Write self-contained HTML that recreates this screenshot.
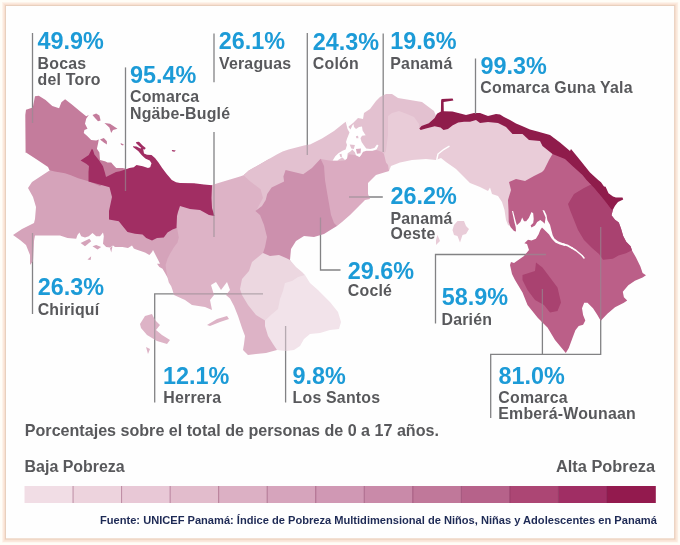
<!DOCTYPE html><html><head><meta charset="utf-8"><title>Mapa</title><style>
html,body{margin:0;padding:0;background:#fffdf7;}body{width:680px;height:545px;overflow:hidden;position:relative;font-family:"Liberation Sans",sans-serif;}
svg{position:absolute;left:0;top:0;}text{font-family:"Liberation Sans",sans-serif;font-weight:bold;}text.lab{letter-spacing:0.2px;}
</style></head><body>
<svg width="680" height="545" viewBox="0 0 680 545">
<defs><linearGradient id="fr" x1="0" y1="0" x2="1" y2="0"><stop offset="0" stop-color="#fdeadf"/><stop offset="1" stop-color="#ecd3c2"/></linearGradient><filter id="sb" x="-2%" y="-2%" width="104%" height="104%"><feGaussianBlur stdDeviation="0.38"/></filter></defs>
<rect x="0" y="0" width="680" height="545" fill="#fffdf7"/>
<rect x="3" y="3" width="674.2" height="538.5" fill="none" stroke="#fdf3ea" stroke-width="2"/>
<rect x="4.5" y="4.5" width="671.2" height="535.5" fill="#fefefe" stroke="#f8e0d1" stroke-width="3"/>
<rect x="3.5" y="3.5" width="673.2" height="537.5" fill="none" stroke="#fbe9dd" stroke-width="1"/>
<rect x="5.5" y="5.5" width="669.2" height="533.5" fill="none" stroke="#e8d0be" stroke-width="1"/>
<clipPath id="mc"><path d="M49.5,170.4 L32.0,182.0 L28.0,188.0 L33.0,197.0 L36.0,207.0 L35.0,219.0 L34.0,223.0 L22.0,229.0 L13.0,235.0 L20.0,240.0 L26.0,245.0 L30.0,255.0 L30.0,265.0 L33.0,261.0 L34.0,241.0 L35.0,235.5 L50.0,235.5 L60.0,235.6 L67.5,238.0 L76.2,238.8 L77.5,235.0 L79.4,232.5 L81.2,236.2 L85.0,237.5 L88.8,236.2 L92.5,233.0 L96.2,236.2 L100.0,236.2 L103.0,232.5 L103.8,236.2 L103.0,243.8 L106.2,247.0 L110.0,247.5 L113.0,245.6 L115.0,247.0 L122.5,247.0 L128.0,248.0 L132.0,245.6 L133.8,248.5 L136.2,249.4 L145.0,252.5 L149.4,255.0 L152.0,252.0 L153.0,250.0 L156.2,256.2 L158.8,261.2 L160.0,263.8 L157.0,263.8 L159.4,267.0 L162.5,268.8 L165.0,273.0 L167.5,277.5 L171.0,277.0 L174.0,262.0 L184.0,242.0 L182.0,226.0 L177.0,215.0 L150.0,200.0 L112.0,180.0 L88.0,175.0 L68.0,167.0 L54.0,168.0 Z"/><path d="M177.0,227.5 L178.8,237.5 L177.5,242.5 L173.8,247.5 L170.0,253.8 L167.5,258.8 L165.6,265.0 L166.2,270.0 L167.5,277.5 L168.8,282.5 L171.2,286.2 L172.5,290.0 L174.0,295.0 L185.0,300.0 L192.0,305.0 L205.0,307.0 L212.0,310.0 L210.0,300.0 L214.0,295.0 L211.0,285.0 L216.0,282.0 L221.0,290.0 L227.0,282.0 L230.0,290.0 L226.0,295.0 L230.0,298.5 L234.0,306.0 L238.0,316.0 L242.0,328.0 L245.0,336.0 L244.0,344.0 L243.0,350.0 L248.0,355.0 L256.0,354.0 L266.0,353.0 L277.0,350.0 L290.0,340.0 L300.0,280.0 L285.0,250.0 L290.0,200.0 L275.0,175.0 L269.4,158.8 L259.1,164.7 L248.8,170.6 L243.5,175.2 L240.0,176.5 L225.0,181.0 L212.0,185.0 L205.0,190.0 L175.0,198.0 L168.0,225.0 Z"/><path d="M243.5,175.2 L248.8,170.6 L259.1,164.7 L269.4,158.8 L276.8,154.4 L282.6,151.5 L288.5,149.6 L305.0,145.3 L310.0,144.5 L322.0,138.5 L334.0,131.0 L344.0,123.0 L347.0,121.0 L348.0,127.0 L353.0,123.0 L358.0,118.0 L363.0,119.0 L364.0,113.0 L370.0,109.0 L376.0,101.0 L380.0,97.0 L382.0,96.0 L386.0,94.0 L392.0,94.0 L398.0,98.0 L410.0,100.0 L422.0,102.0 L426.0,105.0 L434.0,111.0 L436.0,116.0 L440.0,120.0 L430.0,130.0 L419.0,130.0 L395.0,140.0 L395.0,160.0 L370.0,175.0 L330.0,180.0 L300.0,190.0 L265.0,215.0 L256.0,211.0 L263.0,198.0 L260.6,189.2 L250.3,181.4 Z"/><path d="M384.0,154.0 L386.0,151.0 L388.0,135.0 L388.0,116.0 L392.0,113.0 L399.0,111.0 L407.0,114.0 L414.0,117.0 L419.0,124.0 L419.0,128.0 L430.0,122.0 L450.0,118.0 L500.0,120.0 L540.0,138.0 L556.0,150.0 L556.0,158.0 L548.0,174.0 L528.0,184.0 L514.0,186.0 L511.0,190.0 L510.0,200.0 L511.0,210.0 L511.0,222.0 L510.0,226.0 L508.0,225.0 L506.0,220.0 L504.5,210.0 L502.0,202.0 L498.0,196.0 L492.0,194.0 L490.0,187.5 L488.0,191.0 L480.0,187.0 L470.0,183.0 L464.0,177.0 L456.0,169.0 L446.0,162.0 L441.0,158.0 L436.0,160.0 L426.0,159.0 L412.0,160.0 L400.0,162.5 L391.0,166.0 L389.0,171.0 L380.0,172.0 L380.0,155.0 Z"/><path d="M321.0,159.0 L326.0,160.0 L332.7,161.0 L337.4,161.0 L345.0,160.5 L347.0,158.4 L348.7,154.3 L355.0,155.0 L359.5,157.0 L361.0,155.3 L363.0,152.0 L366.2,151.0 L372.4,151.0 L376.5,150.0 L382.0,152.0 L384.0,154.0 L386.0,162.5 L388.0,165.0 L389.0,171.0 L376.0,175.0 L368.0,183.0 L368.0,194.0 L370.0,199.0 L365.0,200.0 L360.0,205.0 L350.0,215.0 L342.0,222.0 L337.0,226.0 L330.0,226.0 L322.0,200.0 L318.0,165.0 Z"/><path d="M255.4,211.0 L262.0,205.9 L265.7,200.0 L267.2,194.1 L271.6,187.5 L284.1,181.6 L283.4,176.5 L285.6,169.9 L303.2,174.3 L312.0,168.0 L320.6,158.8 L324.0,166.0 L325.0,180.0 L327.5,195.0 L331.0,215.0 L334.0,223.0 L337.0,226.0 L332.0,229.0 L324.0,234.0 L314.0,237.0 L304.0,236.0 L296.0,241.0 L291.0,249.0 L290.0,260.0 L290.0,263.0 L280.0,262.0 L266.0,259.0 L263.0,253.0 L265.0,247.0 L267.0,237.0 L264.0,225.0 L260.0,215.0 Z"/><path d="M263.0,253.0 L270.0,256.0 L279.0,255.0 L286.0,258.0 L290.0,260.0 L296.0,267.0 L302.0,272.0 L305.0,275.0 L301.0,281.0 L292.0,287.0 L288.0,296.0 L284.0,306.0 L278.0,315.0 L266.0,322.0 L265.0,320.5 L256.0,315.0 L248.0,305.0 L242.0,295.0 L240.0,289.0 L242.0,279.0 L249.0,271.0 L252.0,262.0 Z"/><path d="M305.0,275.0 L298.0,277.0 L292.0,281.0 L285.0,283.0 L283.0,291.0 L280.0,299.0 L278.0,309.0 L272.0,314.0 L265.0,320.5 L265.0,326.0 L268.0,336.0 L273.0,344.0 L277.0,350.0 L286.0,351.0 L294.0,350.0 L300.0,346.0 L304.0,339.0 L310.0,334.0 L320.0,333.0 L330.0,330.0 L339.0,329.0 L341.0,322.0 L338.0,312.0 L330.0,302.0 L318.0,290.0 L310.0,283.0 Z"/><path d="M25.3,115.0 L26.0,109.8 L32.8,107.6 L35.0,96.3 L38.8,95.8 L45.6,100.0 L52.3,106.0 L59.1,108.3 L61.4,102.3 L65.1,99.3 L71.9,104.6 L80.0,111.2 L86.2,116.2 L88.8,115.0 L86.2,118.8 L85.0,123.8 L87.5,128.8 L84.4,130.0 L83.8,133.0 L87.5,136.2 L91.2,140.0 L96.2,140.6 L98.8,139.4 L98.0,143.8 L96.9,148.8 L99.4,152.5 L100.0,160.0 L105.0,161.2 L107.5,162.5 L111.2,162.5 L113.8,165.6 L116.2,168.0 L122.5,168.0 L126.0,168.8 L126.0,172.0 L110.0,180.0 L100.0,186.0 L88.5,181.3 L78.2,178.2 L70.9,175.3 L65.0,173.2 L54.7,171.6 L49.5,170.2 L48.0,167.0 L36.0,159.0 L26.0,152.5 L25.6,153.0 Z"/><path d="M91.9,148.8 L93.0,150.0 L94.4,154.4 L98.8,160.0 L103.0,166.2 L105.0,173.0 L106.0,177.0 L110.0,175.0 L116.0,172.0 L120.0,171.2 L126.0,169.2 L129.4,168.0 L133.8,167.2 L136.5,165.0 L142.7,166.3 L148.0,168.0 L150.2,167.2 L151.5,163.2 L149.7,160.6 L145.3,158.4 L141.8,155.3 L138.2,150.9 L133.0,147.0 L133.0,146.2 L136.5,146.4 L140.4,148.5 L141.3,148.1 L138.0,145.0 L136.0,142.9 L136.4,142.0 L139.0,141.8 L142.6,145.4 L145.7,148.0 L144.9,149.6 L143.2,149.2 L144.0,153.6 L147.0,154.7 L151.5,154.9 L155.0,158.0 L158.5,162.4 L162.0,167.7 L166.5,173.8 L171.8,180.0 L176.0,182.3 L180.0,183.0 L194.0,183.3 L204.0,184.5 L212.0,185.2 L211.5,198.0 L212.0,208.0 L214.5,216.0 L209.0,215.0 L200.0,210.0 L190.0,209.0 L180.0,206.0 L178.0,212.0 L177.0,216.0 L176.5,228.0 L172.5,229.4 L167.5,232.5 L163.8,237.5 L157.0,238.0 L152.0,240.6 L146.2,238.0 L142.5,234.4 L135.0,233.8 L127.5,232.0 L123.8,227.5 L118.8,221.2 L109.0,219.5 L109.0,211.0 L112.0,197.0 L109.5,187.2 L98.8,184.3 L88.5,181.5 L88.5,172.0 L89.0,166.0 L86.2,163.8 L80.6,160.6 L88.8,155.0 Z"/><path d="M509.0,182.0 L516.0,179.0 L525.0,181.0 L534.0,176.0 L542.0,172.0 L544.0,170.0 L549.0,160.0 L552.5,154.0 L565.0,150.0 L600.0,186.0 L613.0,209.4 L611.5,215.3 L615.0,219.7 L618.8,222.6 L621.0,228.5 L623.2,235.9 L626.2,241.8 L630.6,246.2 L632.0,250.4 L636.0,257.6 L640.4,266.4 L642.6,273.0 L646.0,275.2 L642.6,277.4 L634.9,280.7 L628.3,285.2 L622.8,291.8 L623.9,297.3 L627.2,300.6 L623.9,302.8 L615.0,307.2 L607.4,313.8 L600.7,320.8 L597.4,314.9 L593.0,308.3 L587.5,302.8 L584.2,302.8 L582.0,308.3 L583.1,314.9 L585.3,320.4 L583.1,324.8 L578.7,325.9 L575.4,330.3 L572.1,339.1 L568.8,347.9 L565.8,353.0 L555.0,340.0 L547.5,327.5 L537.5,317.5 L527.5,305.0 L522.5,292.5 L515.0,280.0 L512.0,274.0 L510.0,265.0 L511.0,262.0 L514.0,263.0 L524.0,256.0 L529.0,250.0 L527.0,244.0 L524.4,243.2 L528.0,239.7 L531.5,240.6 L535.9,238.8 L538.5,234.4 L540.3,230.0 L542.0,227.4 L545.6,230.9 L549.1,234.4 L551.8,238.8 L555.3,242.4 L559.7,244.4 L565.0,246.0 L565.0,244.0 L562.4,243.0 L558.0,241.3 L554.4,238.6 L552.7,235.3 L551.3,230.0 L550.0,224.7 L547.4,220.3 L546.5,215.0 L544.3,210.6 L542.5,210.1 L543.8,213.2 L545.6,217.6 L544.7,223.8 L543.0,222.0 L540.3,219.9 L537.2,222.0 L535.0,225.6 L531.5,227.4 L530.6,225.6 L533.2,223.0 L533.7,219.0 L533.2,213.2 L531.5,212.0 L528.8,218.0 L526.2,221.2 L524.0,221.2 L522.2,217.6 L520.4,222.0 L517.4,224.7 L516.9,225.3 L515.9,222.0 L513.1,211.0 L512.0,211.0 L514.5,222.5 L515.7,227.0 L516.0,231.5 L514.0,231.0 L510.5,227.0 L508.7,222.0 L508.5,210.0 L508.0,200.0 L511.0,190.0 Z"/><path d="M568.0,204.0 L574.0,194.0 L584.0,188.0 L590.0,185.0 L600.0,185.0 L610.0,200.0 L613.0,209.4 L611.5,215.3 L615.0,219.7 L618.8,222.6 L621.0,228.5 L623.2,235.9 L626.2,241.8 L630.6,246.2 L632.0,250.2 L626.0,253.2 L618.4,255.4 L612.9,258.7 L603.0,259.8 L599.0,254.0 L592.0,248.0 L584.0,240.0 L578.0,230.0 L574.0,220.0 L570.0,210.0 Z"/><path d="M522.5,275.0 L535.0,271.0 L536.0,262.5 L542.5,267.5 L550.0,277.5 L557.5,287.5 L561.0,302.5 L557.5,311.0 L550.0,312.5 L544.0,305.0 L535.0,300.0 L527.5,290.0 L522.5,280.0 Z"/><path d="M419.3,128.4 L421.5,126.0 L428.8,123.2 L434.7,118.0 L437.0,113.7 L440.9,111.5 L441.1,100.6 L441.6,98.9 L452.6,98.4 L453.4,100.6 L443.6,101.9 L443.8,111.2 L452.4,111.5 L461.2,113.7 L466.0,115.0 L474.0,113.0 L480.0,113.0 L488.0,116.0 L496.0,114.0 L500.0,114.5 L504.0,117.0 L510.0,120.0 L516.0,123.5 L522.0,126.0 L530.0,129.5 L537.5,131.5 L550.0,135.0 L560.0,142.5 L570.0,151.0 L571.0,149.0 L580.0,160.0 L590.0,172.5 L598.2,180.0 L601.0,182.2 L604.0,186.6 L605.6,186.8 L608.5,193.2 L613.0,196.6 L615.9,197.6 L622.5,197.4 L623.2,199.4 L618.0,202.0 L615.0,205.7 L613.0,209.6 L611.5,209.4 L607.0,203.5 L601.2,196.2 L593.8,187.4 L586.5,180.0 L582.5,175.0 L572.5,166.0 L565.0,159.0 L552.5,154.0 L542.5,146.0 L540.0,141.0 L529.0,140.0 L522.5,134.0 L512.5,134.0 L506.0,127.0 L498.0,123.0 L488.0,122.0 L480.0,123.0 L476.0,120.0 L470.0,121.8 L464.0,121.8 L458.2,122.5 L452.4,125.4 L448.0,129.0 L443.5,129.9 L440.6,127.6 L434.7,126.2 L425.9,128.4 L420.7,129.9 Z"/><path d="M355.9,136.3 L358.0,135.7 L358.5,138.3 L356.4,138.3 Z"/><path d="M349.7,144.5 L354.9,145.0 L353.8,149.1 L351.3,148.6 Z"/><path d="M355.9,149.1 L361.0,148.6 L360.5,153.3 L357.0,153.8 Z"/><path d="M339.4,154.3 L341.5,153.8 L342.0,157.4 L340.4,156.9 Z"/><path d="M92.5,115.0 L96.2,113.5 L99.4,115.6 L100.6,120.6 L98.0,121.2 L95.0,118.0 Z"/><path d="M104.4,123.0 L110.0,123.8 L117.5,128.8 L113.0,130.0 L111.2,133.0 L109.4,127.5 Z"/><path d="M100.0,139.4 L103.8,138.0 L106.9,141.2 L106.9,144.4 L103.8,142.5 Z"/><path d="M120.6,143.0 L123.8,144.4 L123.0,145.6 L121.0,144.8 Z"/><path d="M171.8,150.0 L175.8,150.4 L174.4,151.8 L172.2,151.3 Z"/><path d="M80.6,243.0 L89.4,238.8 L91.2,241.2 L85.0,246.2 Z"/><path d="M92.5,246.2 L96.2,245.0 L101.2,247.0 L97.5,249.4 Z"/><path d="M110.0,248.0 L112.5,246.0 L111.2,252.5 Z"/><path d="M87.5,259.4 L91.2,256.2 L90.6,260.0 Z"/><path d="M140.0,324.0 L145.0,316.0 L152.0,314.0 L155.0,320.0 L160.0,325.0 L156.0,330.0 L162.0,335.0 L170.0,340.0 L167.0,344.0 L157.0,341.0 L147.0,335.0 L141.0,328.0 Z"/><path d="M146.0,347.0 L150.0,349.0 L148.0,354.0 Z"/><path d="M207.0,325.0 L217.0,319.0 L227.0,316.0 L229.0,319.0 L220.0,322.0 L210.0,326.0 Z"/><path d="M454.0,225.0 L457.5,221.0 L464.0,221.0 L466.0,226.0 L469.0,229.0 L466.0,234.0 L462.5,235.0 L460.0,242.5 L457.5,236.0 L454.0,235.0 L452.5,230.0 Z"/><path d="M437.5,235.0 L440.0,241.0 L436.0,245.0 L436.0,240.0 Z"/></clipPath>
<path d="M32.5,33.0 L32.5,123.0" fill="none" stroke="#828284" stroke-width="1.3"/>
<path d="M125.5,67.4 L125.5,191.0" fill="none" stroke="#828284" stroke-width="1.3"/>
<path d="M214.0,33.5 L214.0,82.3" fill="none" stroke="#828284" stroke-width="1.3"/>
<path d="M214.0,132.0 L214.0,237.0" fill="none" stroke="#828284" stroke-width="1.3"/>
<path d="M307.3,33.0 L307.3,155.0" fill="none" stroke="#828284" stroke-width="1.3"/>
<path d="M383.2,33.5 L383.2,152.0" fill="none" stroke="#828284" stroke-width="1.3"/>
<path d="M475.5,58.5 L475.5,114.0" fill="none" stroke="#828284" stroke-width="1.3"/>
<path d="M349.0,197.0 L382.8,197.0" fill="none" stroke="#828284" stroke-width="1.3"/>
<path d="M320.5,217.5 L320.5,270.0 L340.5,270.0" fill="none" stroke="#828284" stroke-width="1.3"/>
<path d="M32.5,233.0 L32.5,314.0" fill="none" stroke="#828284" stroke-width="1.3"/>
<path d="M546.0,254.5 L435.5,254.5 L435.5,323.5" fill="none" stroke="#828284" stroke-width="1.3"/>
<path d="M263.0,293.8 L154.7,293.8 L154.7,402.5" fill="none" stroke="#828284" stroke-width="1.3"/>
<path d="M285.6,326.0 L285.6,402.5" fill="none" stroke="#828284" stroke-width="1.3"/>
<path d="M542.4,289.0 L542.4,354.4" fill="none" stroke="#828284" stroke-width="1.3"/>
<path d="M600.7,227.0 L600.7,354.4 L490.7,354.4 L490.7,418.0" fill="none" stroke="#828284" stroke-width="1.3"/>
<g filter="url(#sb)">
<path d="M49.5,170.4 L32.0,182.0 L28.0,188.0 L33.0,197.0 L36.0,207.0 L35.0,219.0 L34.0,223.0 L22.0,229.0 L13.0,235.0 L20.0,240.0 L26.0,245.0 L30.0,255.0 L30.0,265.0 L33.0,261.0 L34.0,241.0 L35.0,235.5 L50.0,235.5 L60.0,235.6 L67.5,238.0 L76.2,238.8 L77.5,235.0 L79.4,232.5 L81.2,236.2 L85.0,237.5 L88.8,236.2 L92.5,233.0 L96.2,236.2 L100.0,236.2 L103.0,232.5 L103.8,236.2 L103.0,243.8 L106.2,247.0 L110.0,247.5 L113.0,245.6 L115.0,247.0 L122.5,247.0 L128.0,248.0 L132.0,245.6 L133.8,248.5 L136.2,249.4 L145.0,252.5 L149.4,255.0 L152.0,252.0 L153.0,250.0 L156.2,256.2 L158.8,261.2 L160.0,263.8 L157.0,263.8 L159.4,267.0 L162.5,268.8 L165.0,273.0 L167.5,277.5 L171.0,277.0 L174.0,262.0 L184.0,242.0 L182.0,226.0 L177.0,215.0 L150.0,200.0 L112.0,180.0 L88.0,175.0 L68.0,167.0 L54.0,168.0 Z" fill="#d5a3ba"/>
<path d="M177.0,227.5 L178.8,237.5 L177.5,242.5 L173.8,247.5 L170.0,253.8 L167.5,258.8 L165.6,265.0 L166.2,270.0 L167.5,277.5 L168.8,282.5 L171.2,286.2 L172.5,290.0 L174.0,295.0 L185.0,300.0 L192.0,305.0 L205.0,307.0 L212.0,310.0 L210.0,300.0 L214.0,295.0 L211.0,285.0 L216.0,282.0 L221.0,290.0 L227.0,282.0 L230.0,290.0 L226.0,295.0 L230.0,298.5 L234.0,306.0 L238.0,316.0 L242.0,328.0 L245.0,336.0 L244.0,344.0 L243.0,350.0 L248.0,355.0 L256.0,354.0 L266.0,353.0 L277.0,350.0 L290.0,340.0 L300.0,280.0 L285.0,250.0 L290.0,200.0 L275.0,175.0 L269.4,158.8 L259.1,164.7 L248.8,170.6 L243.5,175.2 L240.0,176.5 L225.0,181.0 L212.0,185.0 L205.0,190.0 L175.0,198.0 L168.0,225.0 Z" fill="#ddb3c6"/>
<path d="M243.5,175.2 L248.8,170.6 L259.1,164.7 L269.4,158.8 L276.8,154.4 L282.6,151.5 L288.5,149.6 L305.0,145.3 L310.0,144.5 L322.0,138.5 L334.0,131.0 L344.0,123.0 L347.0,121.0 L348.0,127.0 L353.0,123.0 L358.0,118.0 L363.0,119.0 L364.0,113.0 L370.0,109.0 L376.0,101.0 L380.0,97.0 L382.0,96.0 L386.0,94.0 L392.0,94.0 L398.0,98.0 L410.0,100.0 L422.0,102.0 L426.0,105.0 L434.0,111.0 L436.0,116.0 L440.0,120.0 L430.0,130.0 L419.0,130.0 L395.0,140.0 L395.0,160.0 L370.0,175.0 L330.0,180.0 L300.0,190.0 L265.0,215.0 L256.0,211.0 L263.0,198.0 L260.6,189.2 L250.3,181.4 Z" fill="#e3c1d0"/>
<path d="M384.0,154.0 L386.0,151.0 L388.0,135.0 L388.0,116.0 L392.0,113.0 L399.0,111.0 L407.0,114.0 L414.0,117.0 L419.0,124.0 L419.0,128.0 L430.0,122.0 L450.0,118.0 L500.0,120.0 L540.0,138.0 L556.0,150.0 L556.0,158.0 L548.0,174.0 L528.0,184.0 L514.0,186.0 L511.0,190.0 L510.0,200.0 L511.0,210.0 L511.0,222.0 L510.0,226.0 L508.0,225.0 L506.0,220.0 L504.5,210.0 L502.0,202.0 L498.0,196.0 L492.0,194.0 L490.0,187.5 L488.0,191.0 L480.0,187.0 L470.0,183.0 L464.0,177.0 L456.0,169.0 L446.0,162.0 L441.0,158.0 L436.0,160.0 L426.0,159.0 L412.0,160.0 L400.0,162.5 L391.0,166.0 L389.0,171.0 L380.0,172.0 L380.0,155.0 Z" fill="#e9ccd8"/>
<path d="M321.0,159.0 L326.0,160.0 L332.7,161.0 L337.4,161.0 L345.0,160.5 L347.0,158.4 L348.7,154.3 L355.0,155.0 L359.5,157.0 L361.0,155.3 L363.0,152.0 L366.2,151.0 L372.4,151.0 L376.5,150.0 L382.0,152.0 L384.0,154.0 L386.0,162.5 L388.0,165.0 L389.0,171.0 L376.0,175.0 L368.0,183.0 L368.0,194.0 L370.0,199.0 L365.0,200.0 L360.0,205.0 L350.0,215.0 L342.0,222.0 L337.0,226.0 L330.0,226.0 L322.0,200.0 L318.0,165.0 Z" fill="#dbabc1"/>
<path d="M255.4,211.0 L262.0,205.9 L265.7,200.0 L267.2,194.1 L271.6,187.5 L284.1,181.6 L283.4,176.5 L285.6,169.9 L303.2,174.3 L312.0,168.0 L320.6,158.8 L324.0,166.0 L325.0,180.0 L327.5,195.0 L331.0,215.0 L334.0,223.0 L337.0,226.0 L332.0,229.0 L324.0,234.0 L314.0,237.0 L304.0,236.0 L296.0,241.0 L291.0,249.0 L290.0,260.0 L290.0,263.0 L280.0,262.0 L266.0,259.0 L263.0,253.0 L265.0,247.0 L267.0,237.0 L264.0,225.0 L260.0,215.0 Z" fill="#cc90ad"/>
<path d="M263.0,253.0 L270.0,256.0 L279.0,255.0 L286.0,258.0 L290.0,260.0 L296.0,267.0 L302.0,272.0 L305.0,275.0 L301.0,281.0 L292.0,287.0 L288.0,296.0 L284.0,306.0 L278.0,315.0 L266.0,322.0 L265.0,320.5 L256.0,315.0 L248.0,305.0 L242.0,295.0 L240.0,289.0 L242.0,279.0 L249.0,271.0 L252.0,262.0 Z" fill="#ecd7e0"/>
<path d="M305.0,275.0 L298.0,277.0 L292.0,281.0 L285.0,283.0 L283.0,291.0 L280.0,299.0 L278.0,309.0 L272.0,314.0 L265.0,320.5 L265.0,326.0 L268.0,336.0 L273.0,344.0 L277.0,350.0 L286.0,351.0 L294.0,350.0 L300.0,346.0 L304.0,339.0 L310.0,334.0 L320.0,333.0 L330.0,330.0 L339.0,329.0 L341.0,322.0 L338.0,312.0 L330.0,302.0 L318.0,290.0 L310.0,283.0 Z" fill="#f2e3ea"/>
<path d="M25.3,115.0 L26.0,109.8 L32.8,107.6 L35.0,96.3 L38.8,95.8 L45.6,100.0 L52.3,106.0 L59.1,108.3 L61.4,102.3 L65.1,99.3 L71.9,104.6 L80.0,111.2 L86.2,116.2 L88.8,115.0 L86.2,118.8 L85.0,123.8 L87.5,128.8 L84.4,130.0 L83.8,133.0 L87.5,136.2 L91.2,140.0 L96.2,140.6 L98.8,139.4 L98.0,143.8 L96.9,148.8 L99.4,152.5 L100.0,160.0 L105.0,161.2 L107.5,162.5 L111.2,162.5 L113.8,165.6 L116.2,168.0 L122.5,168.0 L126.0,168.8 L126.0,172.0 L110.0,180.0 L100.0,186.0 L88.5,181.3 L78.2,178.2 L70.9,175.3 L65.0,173.2 L54.7,171.6 L49.5,170.2 L48.0,167.0 L36.0,159.0 L26.0,152.5 L25.6,153.0 Z" fill="#c47c9c"/>
<path d="M91.9,148.8 L93.0,150.0 L94.4,154.4 L98.8,160.0 L103.0,166.2 L105.0,173.0 L106.0,177.0 L110.0,175.0 L116.0,172.0 L120.0,171.2 L126.0,169.2 L129.4,168.0 L133.8,167.2 L136.5,165.0 L142.7,166.3 L148.0,168.0 L150.2,167.2 L151.5,163.2 L149.7,160.6 L145.3,158.4 L141.8,155.3 L138.2,150.9 L133.0,147.0 L133.0,146.2 L136.5,146.4 L140.4,148.5 L141.3,148.1 L138.0,145.0 L136.0,142.9 L136.4,142.0 L139.0,141.8 L142.6,145.4 L145.7,148.0 L144.9,149.6 L143.2,149.2 L144.0,153.6 L147.0,154.7 L151.5,154.9 L155.0,158.0 L158.5,162.4 L162.0,167.7 L166.5,173.8 L171.8,180.0 L176.0,182.3 L180.0,183.0 L194.0,183.3 L204.0,184.5 L212.0,185.2 L211.5,198.0 L212.0,208.0 L214.5,216.0 L209.0,215.0 L200.0,210.0 L190.0,209.0 L180.0,206.0 L178.0,212.0 L177.0,216.0 L176.5,228.0 L172.5,229.4 L167.5,232.5 L163.8,237.5 L157.0,238.0 L152.0,240.6 L146.2,238.0 L142.5,234.4 L135.0,233.8 L127.5,232.0 L123.8,227.5 L118.8,221.2 L109.0,219.5 L109.0,211.0 L112.0,197.0 L109.5,187.2 L98.8,184.3 L88.5,181.5 L88.5,172.0 L89.0,166.0 L86.2,163.8 L80.6,160.6 L88.8,155.0 Z" fill="#a12d63"/>
<path d="M509.0,182.0 L516.0,179.0 L525.0,181.0 L534.0,176.0 L542.0,172.0 L544.0,170.0 L549.0,160.0 L552.5,154.0 L565.0,150.0 L600.0,186.0 L613.0,209.4 L611.5,215.3 L615.0,219.7 L618.8,222.6 L621.0,228.5 L623.2,235.9 L626.2,241.8 L630.6,246.2 L632.0,250.4 L636.0,257.6 L640.4,266.4 L642.6,273.0 L646.0,275.2 L642.6,277.4 L634.9,280.7 L628.3,285.2 L622.8,291.8 L623.9,297.3 L627.2,300.6 L623.9,302.8 L615.0,307.2 L607.4,313.8 L600.7,320.8 L597.4,314.9 L593.0,308.3 L587.5,302.8 L584.2,302.8 L582.0,308.3 L583.1,314.9 L585.3,320.4 L583.1,324.8 L578.7,325.9 L575.4,330.3 L572.1,339.1 L568.8,347.9 L565.8,353.0 L555.0,340.0 L547.5,327.5 L537.5,317.5 L527.5,305.0 L522.5,292.5 L515.0,280.0 L512.0,274.0 L510.0,265.0 L511.0,262.0 L514.0,263.0 L524.0,256.0 L529.0,250.0 L527.0,244.0 L524.4,243.2 L528.0,239.7 L531.5,240.6 L535.9,238.8 L538.5,234.4 L540.3,230.0 L542.0,227.4 L545.6,230.9 L549.1,234.4 L551.8,238.8 L555.3,242.4 L559.7,244.4 L565.0,246.0 L565.0,244.0 L562.4,243.0 L558.0,241.3 L554.4,238.6 L552.7,235.3 L551.3,230.0 L550.0,224.7 L547.4,220.3 L546.5,215.0 L544.3,210.6 L542.5,210.1 L543.8,213.2 L545.6,217.6 L544.7,223.8 L543.0,222.0 L540.3,219.9 L537.2,222.0 L535.0,225.6 L531.5,227.4 L530.6,225.6 L533.2,223.0 L533.7,219.0 L533.2,213.2 L531.5,212.0 L528.8,218.0 L526.2,221.2 L524.0,221.2 L522.2,217.6 L520.4,222.0 L517.4,224.7 L516.9,225.3 L515.9,222.0 L513.1,211.0 L512.0,211.0 L514.5,222.5 L515.7,227.0 L516.0,231.5 L514.0,231.0 L510.5,227.0 L508.7,222.0 L508.5,210.0 L508.0,200.0 L511.0,190.0 Z" fill="#bb5f88"/>
<path d="M568.0,204.0 L574.0,194.0 L584.0,188.0 L590.0,185.0 L600.0,185.0 L610.0,200.0 L613.0,209.4 L611.5,215.3 L615.0,219.7 L618.8,222.6 L621.0,228.5 L623.2,235.9 L626.2,241.8 L630.6,246.2 L632.0,250.2 L626.0,253.2 L618.4,255.4 L612.9,258.7 L603.0,259.8 L599.0,254.0 L592.0,248.0 L584.0,240.0 L578.0,230.0 L574.0,220.0 L570.0,210.0 Z" fill="#a9426f"/>
<path d="M522.5,275.0 L535.0,271.0 L536.0,262.5 L542.5,267.5 L550.0,277.5 L557.5,287.5 L561.0,302.5 L557.5,311.0 L550.0,312.5 L544.0,305.0 L535.0,300.0 L527.5,290.0 L522.5,280.0 Z" fill="#a9426f"/>
<path d="M419.3,128.4 L421.5,126.0 L428.8,123.2 L434.7,118.0 L437.0,113.7 L440.9,111.5 L441.1,100.6 L441.6,98.9 L452.6,98.4 L453.4,100.6 L443.6,101.9 L443.8,111.2 L452.4,111.5 L461.2,113.7 L466.0,115.0 L474.0,113.0 L480.0,113.0 L488.0,116.0 L496.0,114.0 L500.0,114.5 L504.0,117.0 L510.0,120.0 L516.0,123.5 L522.0,126.0 L530.0,129.5 L537.5,131.5 L550.0,135.0 L560.0,142.5 L570.0,151.0 L571.0,149.0 L580.0,160.0 L590.0,172.5 L598.2,180.0 L601.0,182.2 L604.0,186.6 L605.6,186.8 L608.5,193.2 L613.0,196.6 L615.9,197.6 L622.5,197.4 L623.2,199.4 L618.0,202.0 L615.0,205.7 L613.0,209.6 L611.5,209.4 L607.0,203.5 L601.2,196.2 L593.8,187.4 L586.5,180.0 L582.5,175.0 L572.5,166.0 L565.0,159.0 L552.5,154.0 L542.5,146.0 L540.0,141.0 L529.0,140.0 L522.5,134.0 L512.5,134.0 L506.0,127.0 L498.0,123.0 L488.0,122.0 L480.0,123.0 L476.0,120.0 L470.0,121.8 L464.0,121.8 L458.2,122.5 L452.4,125.4 L448.0,129.0 L443.5,129.9 L440.6,127.6 L434.7,126.2 L425.9,128.4 L420.7,129.9 Z" fill="#8f1a4b"/>
<path d="M345.6,120.8 L347.5,121.5 L348.5,127.0 L350.5,129.5 L352.3,125.6 L353.5,124.0 L354.0,127.0 L356.0,129.0 L359.0,127.0 L362.0,126.5 L362.6,130.6 L364.6,133.7 L365.7,135.2 L362.0,135.7 L360.5,138.3 L361.6,142.0 L364.0,145.5 L366.2,148.6 L370.3,149.0 L374.4,148.0 L377.0,144.5 L378.5,145.5 L376.5,149.6 L372.4,150.7 L366.2,150.7 L363.0,151.7 L361.0,155.3 L359.5,156.9 L355.9,155.3 L354.9,152.2 L352.3,149.6 L350.7,151.2 L347.7,153.3 L347.0,158.4 L345.0,160.0 L342.5,157.4 L340.4,158.4 L337.4,160.5 L332.7,160.5 L335.3,156.3 L338.4,153.3 L342.5,150.7 L345.6,149.6 L347.0,145.0 L346.0,142.0 L347.0,138.8 L348.2,135.7 L349.5,132.5 L347.5,129.0 L346.3,124.0 Z" fill="#ffffff"/>
<path d="M355.9,136.3 L358.0,135.7 L358.5,138.3 L356.4,138.3 Z" fill="#e3c1d0"/>
<path d="M349.7,144.5 L354.9,145.0 L353.8,149.1 L351.3,148.6 Z" fill="#e3c1d0"/>
<path d="M355.9,149.1 L361.0,148.6 L360.5,153.3 L357.0,153.8 Z" fill="#dbabc1"/>
<path d="M339.4,154.3 L341.5,153.8 L342.0,157.4 L340.4,156.9 Z" fill="#e3c1d0"/>
<path d="M92.5,115.0 L96.2,113.5 L99.4,115.6 L100.6,120.6 L98.0,121.2 L95.0,118.0 Z" fill="#c47c9c"/>
<path d="M104.4,123.0 L110.0,123.8 L117.5,128.8 L113.0,130.0 L111.2,133.0 L109.4,127.5 Z" fill="#c47c9c"/>
<path d="M100.0,139.4 L103.8,138.0 L106.9,141.2 L106.9,144.4 L103.8,142.5 Z" fill="#c47c9c"/>
<path d="M120.6,143.0 L123.8,144.4 L123.0,145.6 L121.0,144.8 Z" fill="#c47c9c"/>
<path d="M171.8,150.0 L175.8,150.4 L174.4,151.8 L172.2,151.3 Z" fill="#a12d63"/>
<path d="M80.6,243.0 L89.4,238.8 L91.2,241.2 L85.0,246.2 Z" fill="#d5a3ba"/>
<path d="M92.5,246.2 L96.2,245.0 L101.2,247.0 L97.5,249.4 Z" fill="#d5a3ba"/>
<path d="M110.0,248.0 L112.5,246.0 L111.2,252.5 Z" fill="#d5a3ba"/>
<path d="M87.5,259.4 L91.2,256.2 L90.6,260.0 Z" fill="#d5a3ba"/>
<path d="M140.0,324.0 L145.0,316.0 L152.0,314.0 L155.0,320.0 L160.0,325.0 L156.0,330.0 L162.0,335.0 L170.0,340.0 L167.0,344.0 L157.0,341.0 L147.0,335.0 L141.0,328.0 Z" fill="#ddb3c6"/>
<path d="M146.0,347.0 L150.0,349.0 L148.0,354.0 Z" fill="#ddb3c6"/>
<path d="M207.0,325.0 L217.0,319.0 L227.0,316.0 L229.0,319.0 L220.0,322.0 L210.0,326.0 Z" fill="#ddb3c6"/>
<path d="M454.0,225.0 L457.5,221.0 L464.0,221.0 L466.0,226.0 L469.0,229.0 L466.0,234.0 L462.5,235.0 L460.0,242.5 L457.5,236.0 L454.0,235.0 L452.5,230.0 Z" fill="#e9ccd8"/>
<path d="M437.5,235.0 L440.0,241.0 L436.0,245.0 L436.0,240.0 Z" fill="#e9ccd8"/>
<path d="M563.0,244.2 L568.0,245.7 L572.0,248.0" fill="none" stroke="#ffffff" stroke-width="1.9" stroke-linecap="round" stroke-linejoin="round"/>
<path d="M572.0,248.0 L576.0,250.5 L582.0,255.5 L584.0,258.0" fill="none" stroke="#ffffff" stroke-width="1.5" stroke-linecap="round" stroke-linejoin="round"/>
<path d="M436.8,159.5 L438.0,154.0 L444.0,149.3 L449.0,146.3" fill="none" stroke="#ffffff" stroke-width="1.4" stroke-linecap="round" stroke-linejoin="round"/>
</g>
<g clip-path="url(#mc)">
<path d="M32.5,33.0 L32.5,123.0" fill="none" stroke="#958c92" stroke-width="1.3" opacity="0.65"/>
<path d="M125.5,67.4 L125.5,191.0" fill="none" stroke="#958c92" stroke-width="1.3" opacity="0.65"/>
<path d="M214.0,33.5 L214.0,82.3" fill="none" stroke="#958c92" stroke-width="1.3" opacity="0.65"/>
<path d="M214.0,132.0 L214.0,237.0" fill="none" stroke="#958c92" stroke-width="1.3" opacity="0.65"/>
<path d="M307.3,33.0 L307.3,155.0" fill="none" stroke="#958c92" stroke-width="1.3" opacity="0.65"/>
<path d="M383.2,33.5 L383.2,152.0" fill="none" stroke="#958c92" stroke-width="1.3" opacity="0.65"/>
<path d="M475.5,58.5 L475.5,114.0" fill="none" stroke="#958c92" stroke-width="1.3" opacity="0.65"/>
<path d="M349.0,197.0 L382.8,197.0" fill="none" stroke="#958c92" stroke-width="1.3" opacity="0.65"/>
<path d="M320.5,217.5 L320.5,270.0 L340.5,270.0" fill="none" stroke="#958c92" stroke-width="1.3" opacity="0.65"/>
<path d="M32.5,233.0 L32.5,314.0" fill="none" stroke="#958c92" stroke-width="1.3" opacity="0.65"/>
<path d="M546.0,254.5 L435.5,254.5 L435.5,323.5" fill="none" stroke="#958c92" stroke-width="1.3" opacity="0.65"/>
<path d="M263.0,293.8 L154.7,293.8 L154.7,402.5" fill="none" stroke="#958c92" stroke-width="1.3" opacity="0.65"/>
<path d="M285.6,326.0 L285.6,402.5" fill="none" stroke="#958c92" stroke-width="1.3" opacity="0.65"/>
<path d="M542.4,289.0 L542.4,354.4" fill="none" stroke="#958c92" stroke-width="1.3" opacity="0.65"/>
<path d="M600.7,227.0 L600.7,354.4 L490.7,354.4 L490.7,418.0" fill="none" stroke="#958c92" stroke-width="1.3" opacity="0.65"/>
</g>
<rect x="24.50" y="486" width="48.84" height="17" fill="#f1dde5"/>
<rect x="73.04" y="486" width="48.84" height="17" fill="#edd3dd"/>
<rect x="121.58" y="486" width="48.84" height="17" fill="#e8c8d6"/>
<rect x="170.12" y="486" width="48.84" height="17" fill="#e2bccc"/>
<rect x="218.65" y="486" width="48.84" height="17" fill="#dcb0c4"/>
<rect x="267.19" y="486" width="48.84" height="17" fill="#d6a4bc"/>
<rect x="315.73" y="486" width="48.84" height="17" fill="#d098b4"/>
<rect x="364.27" y="486" width="48.84" height="17" fill="#c98aa9"/>
<rect x="412.81" y="486" width="48.84" height="17" fill="#c0789a"/>
<rect x="461.35" y="486" width="48.84" height="17" fill="#b6628a"/>
<rect x="509.88" y="486" width="48.84" height="17" fill="#ac4674"/>
<rect x="558.42" y="486" width="48.84" height="17" fill="#a02e64"/>
<rect x="606.96" y="486" width="48.84" height="17" fill="#931a4e"/>
<rect x="72.54" y="486" width="1" height="17" fill="#7a2850" opacity="0.42"/>
<rect x="121.08" y="486" width="1" height="17" fill="#7a2850" opacity="0.42"/>
<rect x="169.62" y="486" width="1" height="17" fill="#7a2850" opacity="0.42"/>
<rect x="218.15" y="486" width="1" height="17" fill="#7a2850" opacity="0.42"/>
<rect x="266.69" y="486" width="1" height="17" fill="#7a2850" opacity="0.42"/>
<rect x="315.23" y="486" width="1" height="17" fill="#7a2850" opacity="0.42"/>
<rect x="363.77" y="486" width="1" height="17" fill="#7a2850" opacity="0.42"/>
<rect x="412.31" y="486" width="1" height="17" fill="#7a2850" opacity="0.42"/>
<rect x="460.85" y="486" width="1" height="17" fill="#7a2850" opacity="0.42"/>
<rect x="509.38" y="486" width="1" height="17" fill="#7a2850" opacity="0.42"/>
<rect x="557.92" y="486" width="1" height="17" fill="#7a2850" opacity="0.42"/>
<rect x="606.46" y="486" width="1" height="17" fill="#7a2850" opacity="0.42"/>
</svg><div style="position:absolute;left:0;top:0;width:680px;height:545px;will-change:transform;"><svg width="680" height="545" viewBox="0 0 680 545"><defs><filter id="tb" x="-2%" y="-2%" width="104%" height="104%"><feGaussianBlur stdDeviation="0.3"/></filter></defs><g filter="url(#tb)">
<text x="37.6" y="49.4" font-size="23.4" fill="#1e9bd7">49.9%</text>
<text class="lab" x="37.6" y="68.8" font-size="15.9" fill="#58595b">Bocas</text>
<text class="lab" x="37.6" y="84.6" font-size="15.9" fill="#58595b">del Toro</text>
<text x="130" y="83.3" font-size="23.4" fill="#1e9bd7">95.4%</text>
<text class="lab" x="130" y="101.9" font-size="15.9" fill="#58595b">Comarca</text>
<text class="lab" x="130" y="118.5" font-size="15.9" fill="#58595b">Ngäbe-Buglé</text>
<text x="218.7" y="49.4" font-size="23.4" fill="#1e9bd7">26.1%</text>
<text class="lab" x="219" y="68.8" font-size="15.9" fill="#58595b">Veraguas</text>
<text x="312.8" y="49.6" font-size="23.4" fill="#1e9bd7">24.3%</text>
<text class="lab" x="312.8" y="69" font-size="15.9" fill="#58595b">Colón</text>
<text x="390.3" y="49.4" font-size="23.4" fill="#1e9bd7">19.6%</text>
<text class="lab" x="390.3" y="68.6" font-size="15.9" fill="#58595b">Panamá</text>
<text x="480.5" y="73.5" font-size="23.4" fill="#1e9bd7">99.3%</text>
<text class="lab" x="480.3" y="93.2" font-size="15.9" fill="#58595b">Comarca Guna Yala</text>
<text x="390.4" y="204.3" font-size="23.4" fill="#1e9bd7">26.2%</text>
<text class="lab" x="390.4" y="223.5" font-size="15.9" fill="#58595b">Panamá</text>
<text class="lab" x="390.4" y="239.2" font-size="15.9" fill="#58595b">Oeste</text>
<text x="347.8" y="278.6" font-size="23.4" fill="#1e9bd7">29.6%</text>
<text class="lab" x="347.8" y="296.4" font-size="15.9" fill="#58595b">Coclé</text>
<text x="37.7" y="294.9" font-size="23.4" fill="#1e9bd7">26.3%</text>
<text class="lab" x="37.7" y="314.5" font-size="15.9" fill="#58595b">Chiriquí</text>
<text x="441.8" y="305.2" font-size="23.4" fill="#1e9bd7">58.9%</text>
<text class="lab" x="441.5" y="324.5" font-size="15.9" fill="#58595b">Darién</text>
<text x="163" y="383.8" font-size="23.4" fill="#1e9bd7">12.1%</text>
<text class="lab" x="163.3" y="402.7" font-size="15.9" fill="#58595b">Herrera</text>
<text x="292.6" y="383.5" font-size="23.4" fill="#1e9bd7">9.8%</text>
<text class="lab" x="292.6" y="402.7" font-size="15.9" fill="#58595b">Los Santos</text>
<text x="498.5" y="383.8" font-size="23.4" fill="#1e9bd7">81.0%</text>
<text class="lab" x="498.3" y="403" font-size="15.9" fill="#58595b">Comarca</text>
<text class="lab" x="498.3" y="419.4" font-size="15.9" fill="#58595b">Emberá-Wounaan</text>
<text x="24.8" y="435.7" font-size="16.1" fill="#58595b">Porcentajes sobre el total de personas de 0 a 17 años.</text>
<text x="24.6" y="471.6" font-size="15.95" fill="#58595b">Baja Pobreza</text>
<text x="655" y="471.6" font-size="16.35" fill="#58595b" text-anchor="end">Alta Pobreza</text>
<text x="100" y="523.8" font-size="11.1" fill="#1f2a55">Fuente: UNICEF Panamá: Índice de Pobreza Multidimensional de Niños, Niñas y Adolescentes en Panamá</text>
</g></svg></div></body></html>
